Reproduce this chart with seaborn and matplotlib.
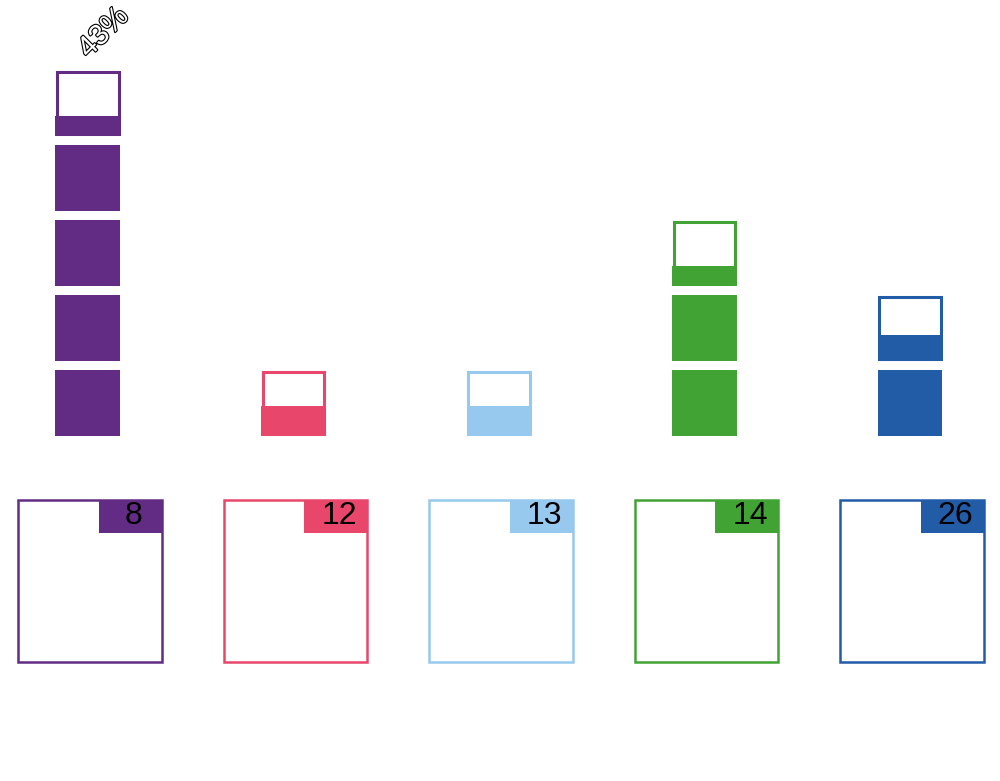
import numpy as np
import matplotlib
matplotlib.use("Agg")
import matplotlib.pyplot as plt
import matplotlib.patches as mpatches
import matplotlib.patheffects as pe
import seaborn as sns

# data
groups = ["A", "B", "C", "D", "E"]
shares = [43, 4.5, 4.5, 23, 14]          # percent, one square = 10%
counts = [8, 12, 13, 14, 26]
share_labels = ["43%", "", "", "", ""]
colors = ["#632c84", "#e8466a", "#97c9ee", "#41a334", "#225ba6"]

sns.set_theme(style="white")
plt.rcParams["font.family"] = ["Liberation Sans", "DejaVu Sans"]
palette = sns.color_palette(colors)

fig = plt.figure(figsize=(10, 7.81), dpi=100)
ax = fig.add_axes([0, 0, 1, 1])
ax.set_xlim(-0.443, 4.423)
ax.set_ylim(-4.6, 5.813)
ax.axis("off")

sq_w, sq_h = 0.316, 0.88      # square size in (category, square) units
unit = 10.0
lw = 2.2
# half the outline width in data units, so outlined squares keep the same size
dx = (lw / 72 * 100 / 2) / (1000 / 4.866)
dy = (lw / 72 * 100 / 2) / (781 / 10.413)

for i, (share, col) in enumerate(zip(shares, palette)):
    n = share / unit
    full = int(np.floor(n))
    frac = n - full
    x0 = i - 0.015 - sq_w / 2
    for k in range(full):
        ax.add_patch(mpatches.Rectangle((x0, k), sq_w, sq_h, facecolor=col,
                                        edgecolor="none"))
    top = full
    if frac > 0:
        ax.add_patch(mpatches.Rectangle((x0 + dx, full + dy), sq_w - 2 * dx, sq_h - 2 * dy,
                                        facecolor="white", edgecolor=col, linewidth=lw))
        ax.add_patch(mpatches.Rectangle((x0, full), sq_w, sq_h * frac,
                                        facecolor=col, edgecolor="none"))
        top = full + 1
    if share_labels[i]:
        t = ax.text(i + 0.06, top + 0.38, share_labels[i], rotation=45,
                    ha="center", va="center", fontsize=21, color="white")
        t.set_path_effects([pe.withStroke(linewidth=1.6, foreground="black")])

# count boxes below
box_w, box_h = 0.70, 2.16
box_top = -0.853
tab_w, tab_h = 0.307, 0.44
for i, (c, col) in enumerate(zip(counts, palette)):
    bx = i - 0.005 - box_w / 2
    ax.add_patch(mpatches.Rectangle((bx, box_top - box_h), box_w, box_h,
                                    facecolor="white", edgecolor=col, linewidth=1.8))
    ax.add_patch(mpatches.Rectangle((bx + box_w - tab_w, box_top - tab_h), tab_w, tab_h,
                                    facecolor=col, edgecolor="none"))
    ax.text(bx + box_w - tab_w / 2 + 0.015, box_top - tab_h / 2, str(c),
            ha="center", va="center", fontsize=23, color="black")

fig.savefig("out.png", dpi=100, facecolor="white")
